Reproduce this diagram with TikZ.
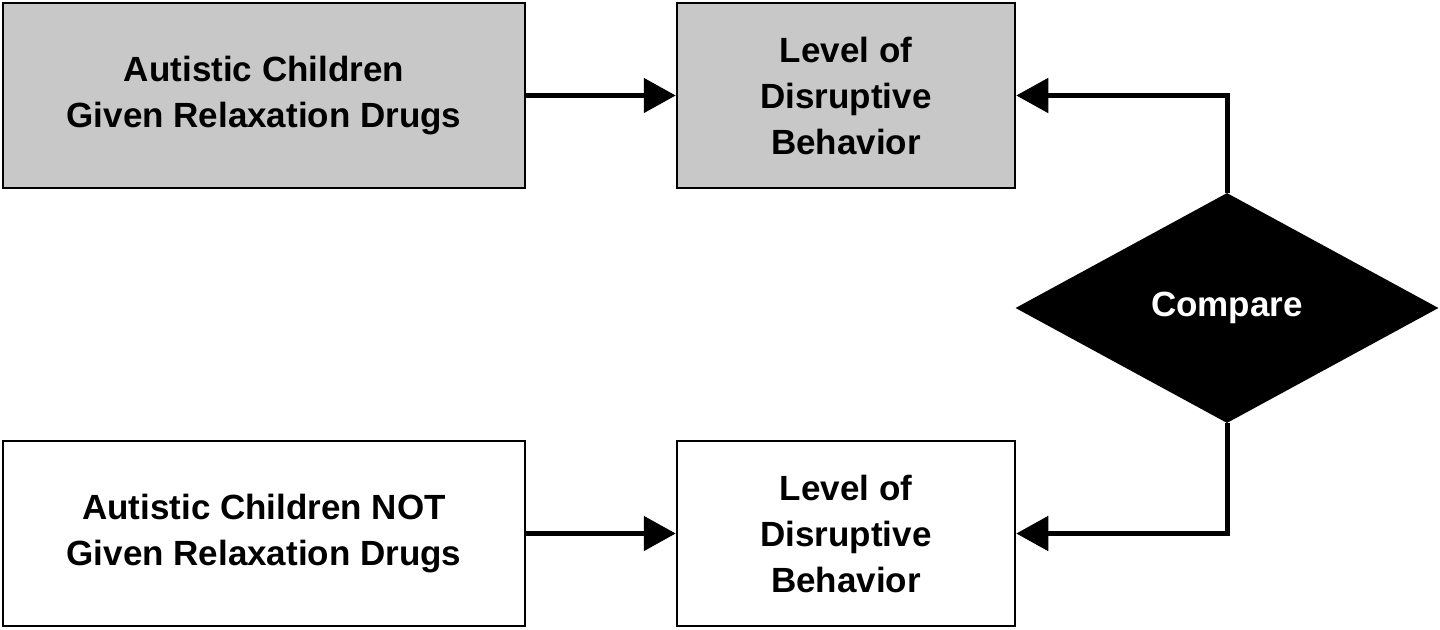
\documentclass[tikz,border=0pt]{standalone}
\usepackage{fontspec}
\setmainfont{Liberation Sans}
\usetikzlibrary{shapes.geometric,arrows.meta}
\definecolor{boxgray}{RGB}{200,200,200}
\begin{document}
\begin{tikzpicture}[x=1pt,y=-1pt,
  box/.style={draw,line width=2.5pt,minimum width=#1,minimum height=185pt,align=center,inner sep=0pt,font=\fontsize{35}{46}\selectfont\bfseries},
  conn/.style={line width=5pt,-{Triangle[length=32pt,width=34pt]}}]
\useasboundingbox (0,0) rectangle (1440,629);
\node[box=522pt,fill=boxgray] (a1) at (264,95.5) {Autistic Children\\Given Relaxation Drugs};
\node[box=338pt,fill=boxgray] (b1) at (846,95.5) {Level of\\Disruptive\\Behavior};
\node[box=522pt,fill=white] (a2) at (264,533.5) {Autistic Children NOT\\Given Relaxation Drugs};
\node[box=338pt,fill=white] (b2) at (846,533.5) {Level of\\Disruptive\\Behavior};
\node[diamond,fill=black,minimum width=423pt,minimum height=230pt,aspect=1.84,inner sep=0pt,text=white,font=\fontsize{35}{46}\selectfont\bfseries] (c) at (1227,308) {Compare};
\draw[conn] (a1) -- (b1);
\draw[conn] (a2) -- (b2);
\draw[conn] (c.north) |- (b1.east);
\draw[conn] (c.south) |- (b2.east);
\end{tikzpicture}
\end{document}
